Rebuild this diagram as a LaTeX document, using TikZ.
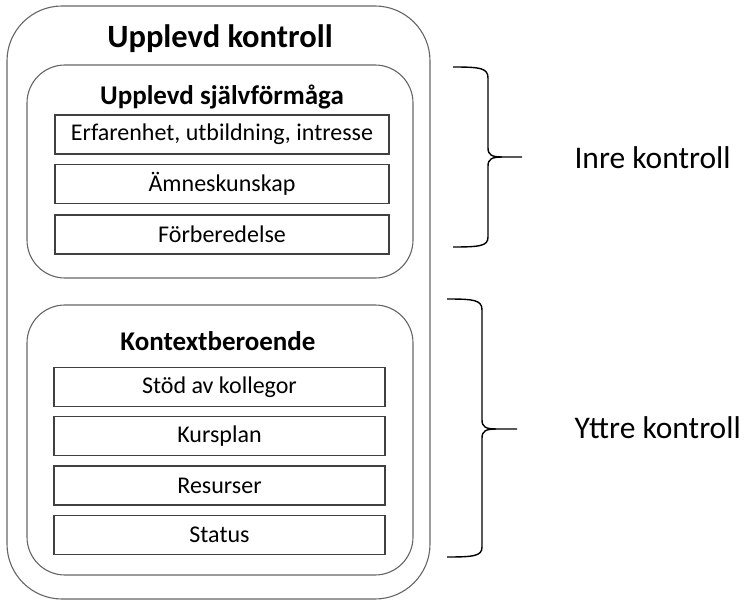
\documentclass[tikz,border=0pt]{standalone}
\usepackage{fontspec}
\setmainfont{Carlito}
\begin{document}
\begin{tikzpicture}[x=1pt,y=-1pt,
  panel/.style={draw=black!60, line width=1.1pt, rounded corners=#1},
  itembox/.style={draw=black!75, line width=1.3pt, minimum width=334pt, minimum height=39pt,
    inner sep=0pt, font=\fontsize{24}{28}\selectfont},
  heading/.style={anchor=base, font=\bfseries\fontsize{27}{31}\selectfont},
  brace/.style={draw=black, line width=1.4pt},
  side/.style={anchor=base west, font=\fontsize{31.5}{36}\selectfont}]
\useasboundingbox (0,0) rectangle (746,601);

% outer frame
\draw[panel=55pt] (7,6) rectangle (430,599);
\node[heading, font=\bfseries\fontsize{32.5}{38}\selectfont] (title) at (220,48) {Upplevd kontroll};

% inner group: self-efficacy
\draw[panel=38pt] (27,65) rectangle (413,278);
\node[heading] (selfeff) at (222,105) {Upplevd självförmåga};
\node[itembox] (erf) at (222,134.5) {Erfarenhet, utbildning, intresse};
\node[itembox] (amne) at (222,184) {Ämneskunskap};
\node[itembox] (forb) at (222,234.5) {Förberedelse};

% inner group: context
\draw[panel=38pt] (27,305) rectangle (413,575);
\node[heading] (kontext) at (218,350) {Kontextberoende};
\node[itembox, minimum width=331pt] (stod) at (219.5,387) {Stöd av kollegor};
\node[itembox, minimum width=331pt] (kurs) at (219.5,436) {Kursplan};
\node[itembox, minimum width=331pt] (res) at (219.5,485.5) {Resurser};
\node[itembox, minimum width=331pt] (stat) at (219.5,535) {Status};

% brace for the inner control
\draw[brace] (453,67) .. controls (480,67) and (488,68) .. (488,78) -- (488,148)
  .. controls (488,155) and (492,157) .. (502,157) -- (522,157);
\draw[brace] (502,157) .. controls (492,157) and (488,159) .. (488,166) -- (488,237)
  .. controls (488,246) and (480,247) .. (453,247);
\node[side] (inre) at (571,169) {Inre kontroll};

% brace for the outer control
\draw[brace] (447,299) .. controls (474,299) and (482,300) .. (482,310) -- (482,420)
  .. controls (482,427) and (486,429) .. (496,429) -- (517,429);
\draw[brace] (496,429) .. controls (486,429) and (482,431) .. (482,438) -- (482,547)
  .. controls (482,556) and (474,557) .. (447,557);
\node[side] (yttre) at (571,438) {Yttre kontroll};
\end{tikzpicture}
\end{document}
